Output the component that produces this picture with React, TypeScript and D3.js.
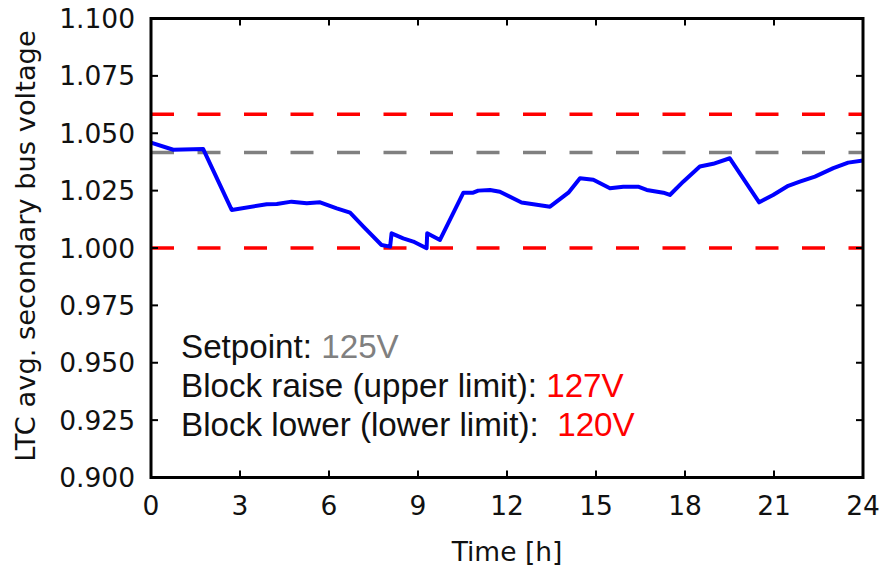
import React from "react";
import * as d3 from "d3";

const times = [0, 0.75, 1.76, 2.72, 3.9, 4.24, 4.74, 5.25, 5.7, 6.26, 6.71, 7.16, 7.77, 8.06, 8.11, 8.5, 8.84, 9.29, 9.31, 9.74, 10.53, 10.86, 11.03, 11.43, 11.76, 12.49, 12.89, 13.45, 14.07, 14.46, 14.91, 15.47, 15.92, 16.42, 16.71, 17.27, 17.49, 17.94, 18.5, 18.95, 19.51, 20.5, 20.97, 21.48, 21.87, 22.38, 23.0, 23.5, 24];
const voltage = [1.0459, 1.0428, 1.0431, 1.0166, 1.0191, 1.0192, 1.0202, 1.0195, 1.0199, 1.0173, 1.0154, 1.0093, 1.0013, 1.0006, 1.0064, 1.0042, 1.0028, 0.9999, 1.0064, 1.0035, 1.0241, 1.0241, 1.025, 1.0253, 1.0245, 1.0198, 1.0191, 1.018, 1.0241, 1.0304, 1.0297, 1.026, 1.0267, 1.0267, 1.0253, 1.0241, 1.0231, 1.0289, 1.0355, 1.0367, 1.0391, 1.0199, 1.0231, 1.0271, 1.0289, 1.0311, 1.0348, 1.0372, 1.0381];
const xTicks = [0, 3, 6, 9, 12, 15, 18, 21, 24];
const yTicks = [0.9, 0.925, 0.95, 0.975, 1.0, 1.025, 1.05, 1.075, 1.1];
const setpoint = 125 / 120;
const upperLimit = 127 / 120;
const lowerLimit = 1.0;

export default function App() {
  const left = 151, right = 863, top = 18.5, bottom = 477.5;
  const x = d3.scaleLinear().domain([0, 24]).range([left, right]);
  const y = d3.scaleLinear().domain([0.9, 1.1]).range([bottom, top]);
  const line = d3.line<number>().x((_, i) => x(times[i])).y((v) => y(v));
  const tickFont = "'DejaVu Sans', sans-serif";
  const annFont = "'Liberation Sans', Arial, sans-serif";
  const tl = 7;
  const hLine = (v: number, color: string) => (
    <line x1={left} x2={right} y1={y(v)} y2={y(v)} stroke={color} strokeWidth={3.5} strokeDasharray="23,23.5" />
  );
  return (
    <svg width={882} height={569} style={{ position: "absolute", left: 0, top: 0, background: "#fff" }}>
      <rect x={0} y={0} width={882} height={569} fill="#fff" />
      {hLine(upperLimit, "#ff0000")}
      {hLine(setpoint, "#808080")}
      {hLine(lowerLimit, "#ff0000")}
      <path d={line(voltage) || ""} fill="none" stroke="#0000ff" strokeWidth={4} strokeLinejoin="round" />
      {xTicks.map((t) => (
        <g key={"x" + t}>
          <line x1={x(t)} x2={x(t)} y1={bottom} y2={bottom - tl} stroke="#000" strokeWidth={2} />
          <line x1={x(t)} x2={x(t)} y1={top} y2={top + tl} stroke="#000" strokeWidth={2} />
          <text x={x(t)} y={515} textAnchor="middle" fontFamily={tickFont} fontSize={26.5} fill="#111">{t}</text>
        </g>
      ))}
      {yTicks.map((t) => (
        <g key={"y" + t}>
          <line x1={left} x2={left + tl} y1={y(t)} y2={y(t)} stroke="#000" strokeWidth={2} />
          <line x1={right} x2={right - tl} y1={y(t)} y2={y(t)} stroke="#000" strokeWidth={2} />
          <text x={135} y={y(t) + 9.6} textAnchor="end" fontFamily={tickFont} fontSize={26.5} fill="#111">{t.toFixed(3)}</text>
        </g>
      ))}
      <rect x={left} y={top} width={right - left} height={bottom - top} fill="none" stroke="#000" strokeWidth={3} />
      <text x={(left + right) / 2} y={561} textAnchor="middle" fontFamily={tickFont} fontSize={26.5} fill="#111">Time [h]</text>
      <text transform={`translate(35,246) rotate(-90)`} textAnchor="middle" fontFamily={tickFont} fontSize={27.3} fill="#111">LTC avg. secondary bus voltage</text>
      <g fontFamily={annFont} fontSize={33.2} fill="#111">
        <text x={181} y={358}>Setpoint: <tspan fill="#808080">125V</tspan></text>
        <text x={181} y={397}>Block raise (upper limit): <tspan fill="#ff0000">127V</tspan></text>
        <text x={181} y={436} xmlSpace="preserve">Block lower (lower limit):  <tspan fill="#ff0000">120V</tspan></text>
      </g>
    </svg>
  );
}
